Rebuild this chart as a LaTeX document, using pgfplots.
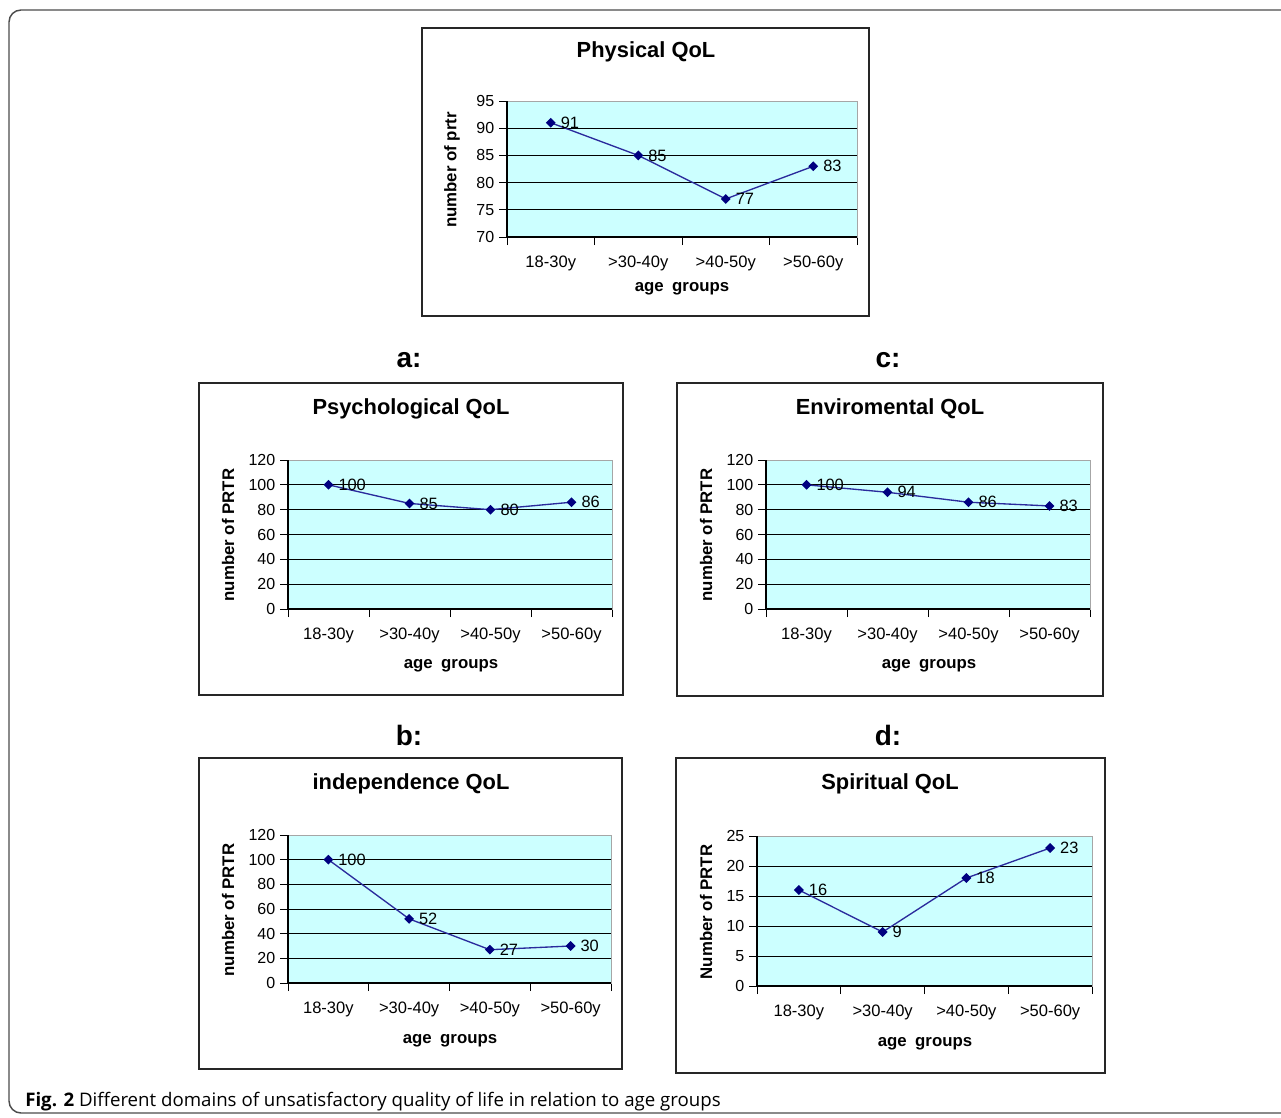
\documentclass[border=0pt]{standalone}
\usepackage{pgfplots}
\pgfplotsset{compat=1.18}
\usepackage{fontspec}
\setmainfont{Liberation Sans}
\newfontfamily\capfont{Open Sans}
\definecolor{cyanbg}{HTML}{CCFFFF}
\definecolor{navymark}{HTML}{000080}
\definecolor{lineblue}{HTML}{2A2A9C}
\pgfplotsset{qol/.style={
  scale only axis, anchor=north west,
  axis background/.style={fill=cyanbg},
  axis line style={draw=gray!70, line width=0.6pt},
  xmin=-0.5, xmax=3.5,
  xtick={0,1,2,3}, xticklabels={18-30y,{>30-40y},{>40-50y},{>50-60y}},
  minor xtick={-0.5,0.5,1.5,2.5,3.5},
  major x tick style={draw=none},
  tick pos=left, tick align=outside,
  major tick length=6pt, minor tick length=6pt,
  every tick/.style={black, line width=0.7pt},
  ticklabel style={font=\fontsize{12}{14}\selectfont},
  xticklabel style={font=\fontsize{12.4}{14}\selectfont, yshift=-5pt},
  /pgf/number format/assume math mode=true,
  extra y tick labels={},
  extra y tick style={ymajorgrids=true},
  grid style={black, line width=0.7pt},
  clip=false,
  nodes near coords,
  every node near coord/.append style={anchor=west, xshift=6pt, inner sep=1pt, black, font=\fontsize{12.3}{14}\selectfont},
}}
\tikzset{qolplot/.style={color=lineblue, line width=1pt, mark=square*, mark size=2.1pt, mark options={fill=navymark, draw=navymark, rotate=45}},
  ttl/.style={font=\bfseries\fontsize{16.4}{19}\selectfont},
  ylbl/.style={font=\bfseries\fontsize{12.6}{14}\selectfont},
  albl/.style={font=\bfseries\fontsize{12.6}{14}\selectfont, execute at begin node={\spaceskip=0.5em\relax}},
  frm/.style={draw=black!85, line width=0.8pt},
  plbl/.style={font=\bfseries\fontsize{21}{24}\selectfont}}
\newcommand{\axes}{\draw[black, line width=0.8pt] (rel axis cs:0,1) -- (rel axis cs:0,0) -- (rel axis cs:1,0);}
\begin{document}
\begin{tikzpicture}[x=0.75pt,y=-0.75pt]
% outer border
\draw[draw=gray!60!black, line width=1.1pt, rounded corners=9pt] (9,10) rectangle (1300,1113);

% ---- Physical QoL
\draw[frm] (422,28) rectangle (869,316);
\node[ttl] at (646,52) {Physical QoL};
\node[ylbl, rotate=90] at (452,170) {number of prtr};
\node[albl] at (682,289) {age groups};
\begin{axis}[qol, at={(380.25pt,-75.75pt)}, width=262.5pt, height=102pt,
  ymin=70, ymax=95, ytick={70,75,...,95}, extra y ticks={75,80,85,90}]
\addplot[qolplot] coordinates {(0,91) (1,85) (2,77) (3,83)};
\axes
\end{axis}

% ---- a: Psychological
\node[plbl] at (409,360) {a:};
\draw[frm] (199,383) rectangle (623,695);
\node[ttl] at (411,409) {Psychological QoL};
\node[ylbl, rotate=90] at (228,535) {number of PRTR};
\node[albl] at (451,666) {age groups};
\begin{axis}[qol, at={(216pt,-345pt)}, width=243pt, height=111.75pt,
  ymin=0, ymax=120, ytick={0,20,...,120}, extra y ticks={20,40,60,80,100}]
\addplot[qolplot] coordinates {(0,100) (1,85) (2,80) (3,86)};
\axes
\end{axis}

% ---- c: Enviromental
\node[plbl] at (888,360) {c:};
\draw[frm] (677,383) rectangle (1103,696);
\node[ttl] at (890,409) {Enviromental QoL};
\node[ylbl, rotate=90] at (706,535) {number of PRTR};
\node[albl] at (929,666) {age groups};
\begin{axis}[qol, at={(574.5pt,-345pt)}, width=243pt, height=111.75pt,
  ymin=0, ymax=120, ytick={0,20,...,120}, extra y ticks={20,40,60,80,100}]
\addplot[qolplot] coordinates {(0,100) (1,94) (2,86) (3,83)};
\axes
\end{axis}

% ---- b: independence
\node[plbl] at (409,735) {b:};
\draw[frm] (199,758) rectangle (622,1069);
\node[ttl] at (411,784) {independence QoL};
\node[ylbl, rotate=90] at (228,910) {number of PRTR};
\node[albl] at (450,1041) {age groups};
\begin{axis}[qol, at={(216pt,-626.25pt)}, width=242.25pt, height=111pt,
  ymin=0, ymax=120, ytick={0,20,...,120}, extra y ticks={20,40,60,80,100}]
\addplot[qolplot] coordinates {(0,100) (1,52) (2,27) (3,30)};
\axes
\end{axis}

% ---- d: Spiritual
\node[plbl] at (888,735) {d:};
\draw[frm] (676,758) rectangle (1105,1073);
\node[ttl] at (890,784) {Spiritual QoL};
\node[ylbl, rotate=90] at (706,912) {Number of PRTR};
\node[albl] at (925,1044) {age groups};
\begin{axis}[qol, at={(567.75pt,-627pt)}, width=251.25pt, height=112.5pt,
  ymin=0, ymax=25, ytick={0,5,...,25}, extra y ticks={5,10,15,20}]
\addplot[qolplot] coordinates {(0,16) (1,9) (2,18) (3,23)};
\axes
\end{axis}

% caption
\node[anchor=west, font=\capfont\fontsize{14}{16}\selectfont, inner sep=0pt] at (25,1102) {\textbf{Fig. 2} Different domains of unsatisfactory quality of life in relation to age groups};

\pgfresetboundingbox
\useasboundingbox (0,0) rectangle (1281,1117);
\end{tikzpicture}
\end{document}
